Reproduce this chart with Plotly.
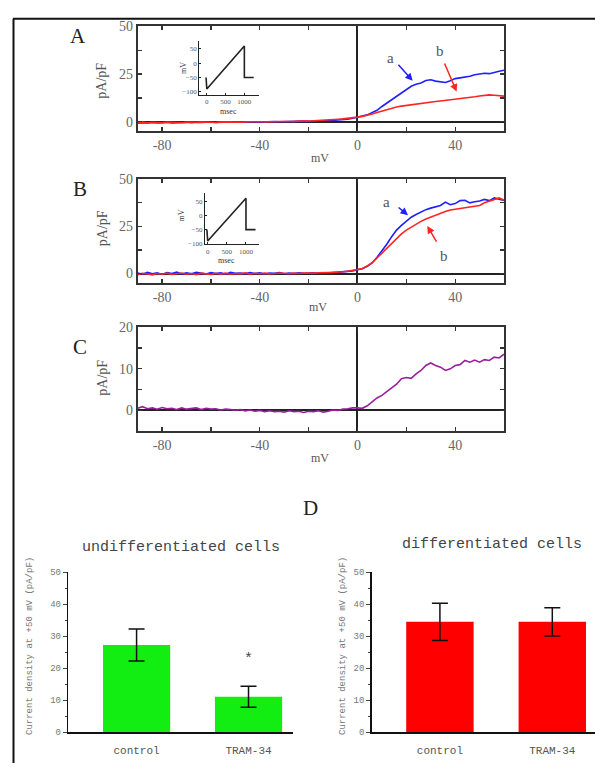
import plotly.graph_objects as go

W, H = 595, 769


def px(x):
    return x / W


def py(y):
    return 1 - y / H


# ---------------- data ----------------
voltage = [-90, -88, -86, -84, -82, -80, -78, -76, -74, -72,
           -70, -68, -66, -64, -62, -60, -58, -56, -54, -52,
           -50, -48, -46, -44, -42, -40, -38, -36, -34, -32,
           -30, -28, -26, -24, -22, -20, -18, -16, -14, -12,
           -10, -8, -6, -4, -2,
           0, 2, 4, 6, 8, 10, 12, 14, 16, 18, 20, 22, 24, 26, 28, 30,
           32, 34, 36, 38, 40, 42, 44, 46, 48, 50, 52, 54, 56, 58, 60]

A_a = [-0.8, -0.5, -0.7, -0.4, -0.6, -0.5, -0.3, -0.6, -0.4, -0.5,
       -0.3, -0.5, -0.2, -0.4, -0.3, -0.1, -0.4, -0.2, -0.3, -0.1,
       -0.3, -0.2, 0.0, -0.2, -0.1, -0.2, 0.0, -0.1, 0.1, 0.0,
       0.1, 0.0, 0.2, 0.1, 0.3, 0.2, 0.4, 0.3, 0.5, 0.6,
       0.7, 0.9, 1.0, 1.3, 1.8,
       2.6, 3.0, 3.6, 4.8, 6.0, 8.0, 9.8, 11.6, 13.4, 15.4, 17.0, 18.6, 19.6, 20.3, 21.6, 22.0,
       21.3, 21.0, 20.6, 21.5, 22.6, 23.0, 23.4, 23.8, 24.6, 25.0, 25.4, 25.2, 26.0, 26.5, 27.0]

A_b = [-0.5, -0.2, -0.6, -0.3, -0.4, -0.6, -0.2, -0.4, -0.3, -0.5,
       -0.2, -0.4, -0.3, -0.1, -0.3, -0.2, -0.4, -0.1, -0.2, -0.3,
       -0.1, -0.2, -0.1, 0.0, -0.2, 0.0, -0.1, 0.1, 0.0, 0.1,
       0.0, 0.2, 0.1, 0.3, 0.2, 0.4, 0.5, 0.6, 0.8, 0.9,
       1.1, 1.3, 1.5, 1.7, 2.0,
       2.4, 2.8, 3.3, 4.0, 4.8, 5.6, 6.4, 7.0, 7.7, 8.2, 8.6, 9.0, 9.4, 9.7, 10.0, 10.3,
       10.6, 10.9, 11.2, 11.4, 11.7, 11.9, 12.3, 12.7, 13.1, 13.5, 13.9, 14.1, 13.9, 13.6, 13.4]

B_a = [0.2, -0.4, 0.6, -0.2, 0.3, -0.5, 0.5, 0.0, 0.7, -0.3,
       0.4, -0.2, 0.6, 0.1, -0.3, 0.5, 0.0, 0.4, -0.4, 0.6,
       0.1, 0.3, -0.2, 0.5, 0.0, 0.4, -0.3, 0.3, 0.1, 0.5,
       -0.1, 0.3, 0.0, 0.4, 0.1, 0.2, 0.4, 0.0, 0.3, 0.2,
       0.4, 0.5, 0.7, 1.0, 1.4,
       2.0, 2.5, 3.8, 5.6, 8.6, 12.0, 15.5, 19.5, 23.0, 25.5, 27.6, 29.8, 31.2, 32.6, 33.8, 34.6,
       35.4, 36.0, 37.8, 36.4, 37.0, 38.6, 38.8, 37.4, 38.0, 38.4, 39.2, 38.6, 40.0, 39.4, 38.7]

B_b = [-0.6, 0.1, -0.3, -0.7, 0.0, -0.4, 0.2, -0.5, -0.1, 0.3,
       -0.4, 0.0, -0.6, 0.2, -0.2, -0.5, 0.1, -0.3, 0.2, -0.4,
       0.0, -0.2, 0.3, -0.3, 0.1, -0.1, 0.2, -0.2, 0.0, 0.3,
       0.1, -0.1, 0.2, 0.0, 0.3, 0.1, 0.2, 0.4, 0.3, 0.5,
       0.6, 0.6, 0.9, 1.2, 1.6,
       2.0, 2.7, 4.0, 5.8, 8.2, 10.8, 13.6, 16.2, 18.8, 21.0, 23.0, 24.6, 26.2, 27.6, 28.8, 29.8,
       31.0, 32.2, 32.8, 33.6, 34.0, 34.4, 34.8, 35.0, 35.6, 36.0, 37.4, 38.2, 39.4, 40.0, 38.8]

C_trace = [0.5, 0.9, 0.4, 0.6, 0.3, 0.7, 0.4, 0.5, 0.2, 0.6,
           0.3, 0.4, 0.6, 0.2, 0.5, 0.3, 0.4, 0.1, 0.3, 0.2,
           0.0, 0.2, -0.1, 0.1, -0.2, 0.0, -0.3, -0.1, -0.3, -0.2,
           -0.4, -0.1, -0.3, -0.2, -0.5, -0.2, -0.3, -0.1, -0.4, -0.2,
           0.1, 0.0, 0.3, 0.4, 0.6,
           0.6, 0.5, 1.1, 2.0, 3.0, 3.6, 4.5, 5.3, 6.3, 7.6, 7.9, 7.7, 8.8, 9.6, 10.8, 11.4,
           10.8, 10.4, 9.6, 10.0, 10.8, 11.0, 12.0, 11.6, 12.1, 11.6, 12.2, 12.0, 12.8, 12.6, 13.5]

# voltage-ramp protocol shown in the insets
ramp_time = [-20, 0, 1000, 1000, 1250]
ramp_mv = [-50, -90, 60, -50, -50]

# panel D bar data
groups = ["control", "TRAM-34"]
undiff_mean = [27.3, 11.1]
undiff_err = [5.0, 3.3]
diff_mean = [34.5, 34.5]
diff_err = [5.8, 4.4]

# tick labels
volt_tickvals = [-80, -60, -40, -20, 0, 20, 40]
volt_ticktext = ["-80", "", "-40", "", "0", "", "40"]

# ---------------- figure ----------------
BLUE = "#1f1fff"
RED = "#ff2323"
PURPLE = "#9a1e9e"
SERIF = "Liberation Serif"
MONO = "Liberation Mono"

fig = go.Figure()

for xa, ya, series in [("x", "y", [(A_a, BLUE), (A_b, RED)]),
                       ("x2", "y2", [(B_a, BLUE), (B_b, RED)]),
                       ("x3", "y3", [(C_trace, PURPLE)])]:
    for vals, col in series:
        fig.add_trace(go.Scatter(x=voltage, y=vals, mode="lines", xaxis=xa, yaxis=ya,
                                 line=dict(color=col, width=1.6), hoverinfo="skip"))

for xa, ya in [("x4", "y4"), ("x5", "y5")]:
    fig.add_trace(go.Scatter(x=ramp_time, y=ramp_mv, mode="lines", xaxis=xa, yaxis=ya,
                             line=dict(color="#222", width=1.6), hoverinfo="skip"))

fig.add_trace(go.Bar(x=groups, y=undiff_mean, xaxis="x6", yaxis="y6", width=0.6,
                     marker=dict(color="#12ee12", line=dict(width=0)),
                     error_y=dict(type="data", array=undiff_err, color="#111",
                                  thickness=1.5, width=8)))
fig.add_trace(go.Bar(x=groups, y=diff_mean, xaxis="x7", yaxis="y7", width=0.6,
                     marker=dict(color="#ff0000", line=dict(width=0)),
                     error_y=dict(type="data", array=diff_err, color="#111",
                                  thickness=1.5, width=8)))

main_ax = dict(showline=True, linecolor="#333", linewidth=2, mirror="ticks",
               ticks="inside", ticklen=4, tickcolor="#333", tickwidth=1.3,
               showgrid=False, zeroline=True, zerolinecolor="#222", zerolinewidth=2,
               tickfont=dict(family=SERIF, size=14, color="#666"))

panels = [  # (suffix, top px, bottom px, y-range, y tickvals, y ticktext)
    ("", 19.7, 126.4, [-5, 50], [0, 12.5, 25, 37.5, 50], ["0", "", "25", "", "50"]),
    ("2", 175, 280.7, [-5, 50], [0, 12.5, 25, 37.5, 50], ["0", "", "25", "", "50"]),
    ("3", 325.7, 431.5, [-5, 20], [0, 5, 10, 15, 20], ["0", "", "10", "", "20"]),
]
layout = {}
for suf, top, bot, yr, tv, tt in panels:
    layout["xaxis" + suf] = dict(main_ax, domain=[px(137.7), px(504)], range=[-90, 60],
                                 anchor="y" + suf, tickvals=volt_tickvals,
                                 ticktext=volt_ticktext)
    layout["yaxis" + suf] = dict(main_ax, domain=[py(bot), py(top)], range=yr,
                                 anchor="x" + suf, tickvals=tv, ticktext=tt)

inset_ax = dict(showline=True, linecolor="#222", linewidth=1.2, mirror=False,
                ticks="inside", ticklen=2, tickcolor="#222", showgrid=False,
                zeroline=False, tickfont=dict(family=SERIF, size=7, color="#555"))
# inset A
layout["xaxis4"] = dict(inset_ax, domain=[px(199.3), px(259)], range=[-200, 1390],
                        anchor="y4", tickvals=[0, 500, 1000])
layout["yaxis4"] = dict(inset_ax, domain=[py(89.3), py(35)], range=[-110, 76],
                        anchor="x4", tickvals=[-100, -50, 0, 50])
# inset B
layout["xaxis5"] = dict(inset_ax, domain=[px(205), px(259)], range=[-70, 1340],
                        anchor="y5", tickvals=[0, 500, 1000])
layout["yaxis5"] = dict(inset_ax, domain=[py(241), py(189.3)], range=[-100, 78],
                        anchor="x5", tickvals=[-100, -50, 0, 50])

bar_x = dict(showline=True, linecolor="#111", linewidth=2, ticks="", showgrid=False,
             zeroline=False, ticklabelstandoff=7,
             tickfont=dict(family=MONO, size=11, color="#555"))
bar_y = dict(showline=True, linecolor="#111", linewidth=1.5, ticks="outside", ticklen=4,
             tickcolor="#444", showgrid=False, zeroline=False, range=[0, 50], dtick=10,
             minor=dict(ticks="outside", ticklen=2, dtick=5, tickcolor="#444"),
             tickfont=dict(family=MONO, size=9, color="#777"),
             domain=[py(737.7), py(575)])
layout["xaxis6"] = dict(bar_x, domain=[px(68.3), px(293.3)], range=[-0.61, 1.40], anchor="y6")
layout["yaxis6"] = dict(bar_y, anchor="x6")
layout["xaxis7"] = dict(bar_x, domain=[px(371.7), px(595)], range=[-0.607, 1.38], anchor="y7")
layout["yaxis7"] = dict(bar_y, anchor="x7")

annotations = []


def txt(x, y, s, size, family=SERIF, color="#444", angle=0):
    annotations.append(dict(x=px(x), y=py(y), xref="paper", yref="paper", text=s,
                            showarrow=False, xanchor="center", yanchor="middle",
                            textangle=angle, font=dict(family=family, size=size, color=color)))


# panel letters
txt(78, 30, "A", 21, color="#222")
txt(80, 185, "B", 21, color="#222")
txt(80, 346, "C", 21, color="#222")
txt(310, 510, "D", 21, color="#222")
# y titles
txt(102, 75, "pA/pF", 14, color="#555", angle=-90)
txt(102, 225, "pA/pF", 14, color="#555", angle=-90)
txt(103, 377, "pA/pF", 14, color="#555", angle=-90)
# x titles
txt(320, 154, "mV", 12, color="#555")
txt(318, 305, "mV", 12, color="#555")
txt(320, 459, "mV", 12, color="#555")
# inset titles
txt(184, 62, "mV", 8, color="#333", angle=-90)
txt(228, 106, "msec", 8, color="#333")
txt(181, 212, "mV", 8, color="#333", angle=-90)
txt(226, 258, "msec", 8, color="#333")
# panel D titles
txt(181, 550, "undifferentiated cells", 15, family=MONO, color="#444")
txt(492, 547, "differentiated cells", 15, family=MONO, color="#444")
txt(30, 650, "Current density at +50 mV (pA/pF)", 9, family=MONO, color="#777", angle=-90)
txt(343, 650, "Current density at +50 mV (pA/pF)", 9, family=MONO, color="#777", angle=-90)


def arrow(xa, ya, hx, hy, tx, ty, col):
    annotations.append(dict(x=hx, y=hy, ax=tx, ay=ty, xref=xa, yref=ya, axref=xa, ayref=ya,
                            text="", showarrow=True, arrowhead=2, arrowsize=1,
                            arrowwidth=1.5, arrowcolor=col))


def label(xa, ya, x, y, s):
    annotations.append(dict(x=x, y=y, xref=xa, yref=ya, text=s, showarrow=False,
                            font=dict(family=SERIF, size=15, color="#555")))


label("x", "y", 13.4, 33.5, "a")
label("x", "y", 33.7, 37.3, "b")
arrow("x", "y", 22.6, 21.5, 16.2, 30.6, BLUE)
arrow("x", "y", 40.6, 15.8, 35.4, 31.3, RED)
label("x2", "y2", 11.9, 37.9, "a")
label("x2", "y2", 35.4, 9.2, "b")
arrow("x2", "y2", 20.7, 30.9, 16.2, 35.6, BLUE)
arrow("x2", "y2", 28.6, 25.2, 32.7, 16.1, RED)
# significance star
annotations.append(dict(x=1, y=22.6, xref="x6", yref="y6", text="*", showarrow=False,
                        font=dict(family=MONO, size=15, color="#444")))

shapes = [
    dict(type="line", xref="paper", yref="paper", x0=px(13), x1=1, y0=py(12), y1=py(12),
         line=dict(color="#111", width=2)),
    dict(type="line", xref="paper", yref="paper", x0=px(13.5), x1=px(13.5), y0=py(12), y1=0,
         line=dict(color="#111", width=2)),
]

fig.update_layout(width=W, height=H, margin=dict(l=0, r=0, t=0, b=0),
                  paper_bgcolor="white", plot_bgcolor="white", showlegend=False,
                  annotations=annotations, shapes=shapes, **layout)

fig.write_html("out.html",
               config={"displayModeBar": False, "staticPlot": True},
               post_script="document.body.style.margin='0px';"
                           "document.body.style.overflow='hidden';")
